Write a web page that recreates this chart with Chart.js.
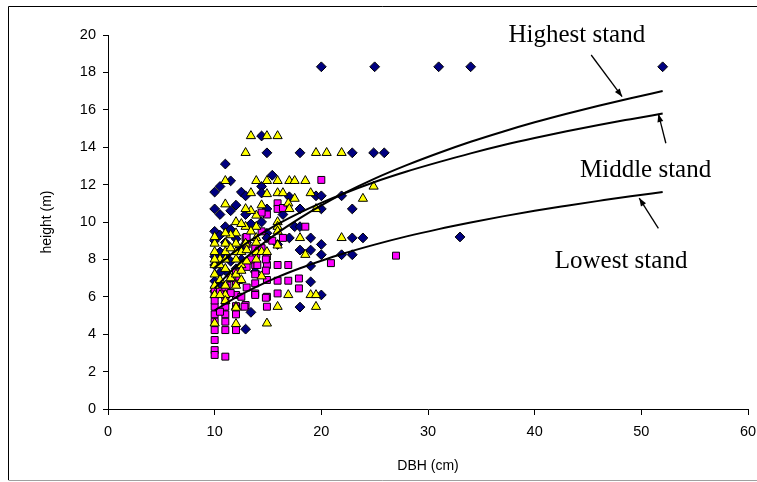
<!DOCTYPE html>
<html>
<head>
<meta charset="utf-8">
<title>Height vs DBH</title>
<script src="https://cdn.jsdelivr.net/npm/chart.js@4.4.1/dist/chart.umd.min.js"></script>
<style>
  html, body { margin: 0; padding: 0; background: #fff; overflow: hidden; }
  #heightChart { display: block; }
</style>
</head>
<body>
<canvas id="heightChart" width="757" height="482"></canvas>
<script>
// [DBH cm, height m]
const diamonds = [
    [20, 18.3], [25, 18.3], [31, 18.3], [34, 18.3], [52, 18.3],
    [14.4, 14.6], [14.9, 13.7], [18, 13.7], [22.9, 13.7], [24.9, 13.7], [25.9, 13.7],
    [11, 13.1], [15.4, 12.5], [11.5, 12.2], [10.5, 11.9], [14.4, 11.9],
    [10, 11.6], [12.5, 11.6], [12.9, 11.4], [14.4, 11.55], [17, 11.35], [19.5, 11.4], [20, 11.4], [21.9, 11.4],
    [10, 10.7], [10.5, 10.4], [14.9, 10.7], [18, 10.7], [20, 10.7], [22.9, 10.7],
    [12.9, 10.4], [16.4, 10.4], [14.4, 10.0], [11, 9.75], [17.5, 9.75], [18, 9.75],
    [14.9, 9.4], [14.9, 9.15], [17, 9.15], [19, 9.15], [22.9, 9.15], [23.9, 9.15], [33, 9.2],
    [15.9, 8.8], [20, 8.8], [18, 8.5], [19, 8.5], [20, 8.25], [21.9, 8.25], [22.9, 8.25], [10.5, 8.4],
    [19, 7.65], [13.8, 7.34], [19, 6.8], [20, 6.1], [18, 5.45], [13.4, 5.17], [12.9, 4.27],
    [10, 6.84], [11, 7.4], [10, 8.15],
    [10, 9.5], [10, 9.0], [10.5, 9.3], [11, 8.9], [11.5, 9.6], [12, 9.1], [12.5, 8.6], [11, 8.2],
    [10, 7.7], [10.5, 7.3], [11.5, 7.9], [12, 7.5], [12.5, 8.0], [13, 8.9], [13.4, 9.9],
    [11.5, 10.6], [12, 10.9], [10, 6.3], [10.5, 6.6], [11, 6.0]
];

const squares = [
    [20, 12.25], [15.9, 11.0], [15.9, 10.7], [16.4, 10.75], [18.5, 9.75],
    [12.9, 9.15], [16.4, 9.15], [13.8, 8.6], [14.4, 8.6], [14.9, 8.15], [20.9, 7.8], [27, 8.2],
    [13.8, 7.7], [14.9, 7.7], [15.9, 7.7], [16.9, 7.7],
    [14.9, 6.9], [15.9, 6.86], [16.9, 6.86], [17.9, 6.98], [17.9, 6.45],
    [13.8, 6.72], [13.8, 6.18], [14.9, 6.0], [15.9, 6.18], [14.9, 5.47], [12.9, 5.56],
    [10, 6.1], [10, 5.47], [10, 5.06], [10, 4.67], [10, 4.22], [10, 3.69], [10, 3.15], [10, 2.89],
    [11, 6.1], [11, 5.47], [11, 5.06], [11, 4.67], [11, 4.22], [11, 2.8],
    [12, 6.1], [12, 5.06], [12, 4.22], [12.8, 5.47], [13.8, 6.1], [14.8, 5.95],
    [13, 9.2], [13, 8.8], [13.9, 8.24], [14.8, 8.0], [14.8, 7.4], [13.8, 7.2], [12.3, 6.9], [11.2, 6.6],
    [10, 5.8], [10, 6.4], [10.5, 6.3], [11, 6.5], [11, 5.8], [11.5, 6.2], [12, 6.7], [12, 5.5],
    [12.5, 6.0], [11.5, 7.0], [10.5, 5.2], [12, 7.3], [13, 6.5], [13, 7.6], [14, 7.7], [13.4, 8.0],
    [14.4, 9.5], [15.4, 9.0], [14.9, 10.4], [14.4, 10.5]
];

const triangles = [
    [13.4, 14.6], [14.9, 14.6], [15.9, 14.6],
    [12.9, 13.7], [19.5, 13.7], [20.5, 13.7], [21.9, 13.7],
    [11, 12.2], [13.9, 12.2], [14.9, 12.2], [15.9, 12.2], [17, 12.2], [17.5, 12.2], [18.5, 12.2],
    [24.9, 11.9], [13.4, 11.55], [14.9, 11.5], [15.9, 11.55], [16.4, 11.55], [17.5, 11.25], [19, 11.55], [23.9, 11.25],
    [11, 10.95], [14.4, 10.9], [16.9, 11.0], [17, 10.7], [19.5, 10.7],
    [13.9, 10.35], [12, 10.0], [15.9, 10.0], [12.9, 9.75], [13.9, 9.75], [15.9, 9.75],
    [12, 9.4], [15.9, 9.5], [13.9, 9.15], [18, 9.15], [21.9, 9.15],
    [10, 8.85], [11, 8.85], [12, 8.85], [12.9, 8.85], [13.9, 8.9], [15.9, 8.75], [18.5, 8.25],
    [10, 8.4], [11, 8.4], [12, 8.4], [12.5, 8.4], [13.9, 8.4], [14.4, 8.4], [14.9, 8.4],
    [10, 7.7], [10.5, 7.7], [12.5, 7.7],
    [16.9, 6.1], [19, 6.1], [19.5, 6.1], [15.9, 5.47], [19.5, 5.47], [14.9, 4.58],
    [11, 6.1], [10, 6.1], [10.5, 6.1], [12, 5.47], [10, 4.58], [12, 4.55], [11, 5.78], [12, 5.42],
    [11, 6.6], [12, 6.6],
    [10, 7.2], [10, 6.6], [10.5, 8.0], [10.5, 6.9], [11, 7.5], [11, 8.0], [11.5, 7.0], [11.5, 8.6],
    [12, 7.2], [12, 8.0], [12.5, 7.4], [12.5, 6.9], [13, 7.9], [13, 8.5], [13.4, 9.5], [13.9, 8.0],
    [11.5, 9.3], [12.5, 9.9], [10, 9.2], [10, 8.0], [11, 9.4], [13.4, 10.6], [12.9, 10.7], [14.4, 7.1]
];

// fitted curves, heights
const curveDBH = [10, 12, 14, 16, 18, 20, 22, 25, 28, 31, 34, 37, 40, 43, 46, 49, 52];
const highestStand = [6.46, 7.62, 8.61, 9.46, 10.21, 10.89, 11.5, 12.32, 13.04, 13.69, 14.29, 14.83, 15.33, 15.79, 16.22, 16.62, 17.0];
const middleStand = [7.56, 8.47, 9.24, 9.91, 10.5, 11.02, 11.5, 12.14, 12.7, 13.2, 13.67, 14.1, 14.49, 14.85, 15.19, 15.5, 15.8];
const lowestStand = [5.27, 5.97, 6.56, 7.08, 7.53, 7.93, 8.3, 8.79, 9.23, 9.62, 9.97, 10.3, 10.6, 10.87, 11.13, 11.38, 11.6];

const xTicks = [0, 10, 20, 30, 40, 50, 60];
const yTicks = [0, 2, 4, 6, 8, 10, 12, 14, 16, 18, 20];

// labels with their arrows, in data units: [text, x, y, arrowFrom, arrowTo]
const callouts = [
    ['Highest stand', 43.95, 19.64, [45.3, 18.93], [48.2, 16.7]],
    ['Middle stand', 50.4, 12.42, [52.3, 14.21], [51.6, 15.78]],
    ['Lowest stand', 48.1, 7.52, [51.6, 9.66], [49.8, 11.28]]
];

const toPts = arr => arr.map(p => ({ x: p[0], y: p[1] }));
const curvePts = ys => curveDBH.map((d, i) => ({ x: d, y: ys[i] }));

const frame = {
    id: 'frame',
    beforeDraw(chart) {
        const c = chart.ctx;
        c.save();
        c.fillStyle = '#fff';
        c.fillRect(0, 0, chart.width, chart.height);
        c.lineWidth = 1;
        c.strokeStyle = '#000';
        c.beginPath();
        c.moveTo(8.5, 480);
        c.lineTo(8.5, 6.5);
        c.lineTo(chart.width, 6.5);
        c.stroke();
        c.strokeStyle = '#a0a0a0';
        c.beginPath();
        c.moveTo(8.5, 480.5);
        c.lineTo(chart.width, 480.5);
        c.stroke();
        c.restore();
    }
};

const notes = {
    id: 'notes',
    afterDatasetsDraw(chart) {
        const c = chart.ctx;
        const xs = chart.scales.x, ys = chart.scales.y;
        c.save();
        c.fillStyle = '#000';
        c.strokeStyle = '#000';
        c.font = '25px "Liberation Serif", "Times New Roman", serif';
        c.textAlign = 'center';
        c.textBaseline = 'alphabetic';
        callouts.forEach(([text, tx, ty, from, to]) => {
            c.fillText(text, xs.getPixelForValue(tx), ys.getPixelForValue(ty));
            const x1 = xs.getPixelForValue(from[0]), y1 = ys.getPixelForValue(from[1]);
            const x2 = xs.getPixelForValue(to[0]), y2 = ys.getPixelForValue(to[1]);
            c.lineWidth = 1.3;
            c.beginPath();
            c.moveTo(x1, y1);
            c.lineTo(x2, y2);
            c.stroke();
            const a = Math.atan2(y2 - y1, x2 - x1);
            c.beginPath();
            c.moveTo(x2, y2);
            c.lineTo(x2 - 8 * Math.cos(a) + 3 * Math.sin(a), y2 - 8 * Math.sin(a) - 3 * Math.cos(a));
            c.lineTo(x2 - 8 * Math.cos(a) - 3 * Math.sin(a), y2 - 8 * Math.sin(a) + 3 * Math.cos(a));
            c.closePath();
            c.fill();
        });
        c.restore();
    }
};

document.addEventListener('DOMContentLoaded', () => {
    const ctx = document.getElementById('heightChart').getContext('2d');
    const lineStyle = {
        showLine: true,
        borderColor: '#000',
        borderWidth: 2,
        pointRadius: 0,
        cubicInterpolationMode: 'monotone'
    };
    const tickFont = { family: '"Liberation Sans", Arial, sans-serif', size: 14.5 };
    const titleFont = { family: '"Liberation Sans", Arial, sans-serif', size: 14 };

    new Chart(ctx, {
        type: 'scatter',
        data: {
            datasets: [
                { label: 'Highest stand', data: curvePts(highestStand), ...lineStyle },
                { label: 'Middle stand', data: curvePts(middleStand), ...lineStyle },
                { label: 'Lowest stand', data: curvePts(lowestStand), ...lineStyle },
                {
                    label: 'Series 3', data: toPts(triangles),
                    pointStyle: 'triangle', pointRadius: 5.3,
                    backgroundColor: '#ffff00', borderColor: '#000', borderWidth: 1
                },
                {
                    label: 'Series 2', data: toPts(squares),
                    pointStyle: 'rect', pointRadius: 4.9,
                    backgroundColor: '#ff00ff', borderColor: '#000', borderWidth: 1
                },
                {
                    label: 'Series 1', data: toPts(diamonds),
                    pointStyle: 'rectRot', pointRadius: 4.9,
                    backgroundColor: '#000080', borderColor: '#000', borderWidth: 1
                }
            ]
        },
        options: {
            responsive: false,
            animation: false,
            events: [],
            layout: { padding: { left: 0, top: 35, right: 9, bottom: 0 } },
            scales: {
                x: {
                    type: 'linear',
                    min: 0,
                    max: 60,
                    afterBuildTicks: s => { s.ticks = xTicks.map(v => ({ value: v })); },
                    afterFit: s => { s.height = 73; s.paddingRight = 0; s.paddingLeft = 0; },
                    ticks: { color: '#000', font: tickFont, padding: 8 },
                    grid: { drawOnChartArea: false, drawTicks: true, tickLength: 6, color: '#000' },
                    border: { color: '#000', width: 1 },
                    title: { display: true, text: 'DBH (cm)', color: '#000', font: titleFont, padding: { bottom: 7 } }
                },
                y: {
                    min: 0,
                    max: 20,
                    afterBuildTicks: s => { s.ticks = yTicks.map(v => ({ value: v })); },
                    afterFit: s => { s.width = 108; },
                    ticks: { color: '#000', font: tickFont, padding: 7 },
                    grid: { drawOnChartArea: false, drawTicks: true, tickLength: 5, color: '#000' },
                    border: { color: '#000', width: 1 },
                    title: { display: true, text: 'height (m)', color: '#000', font: titleFont, padding: { top: 39 } }
                }
            },
            plugins: {
                legend: { display: false },
                tooltip: { enabled: false }
            }
        },
        plugins: [frame, notes]
    });
});
</script>
</body>
</html>
